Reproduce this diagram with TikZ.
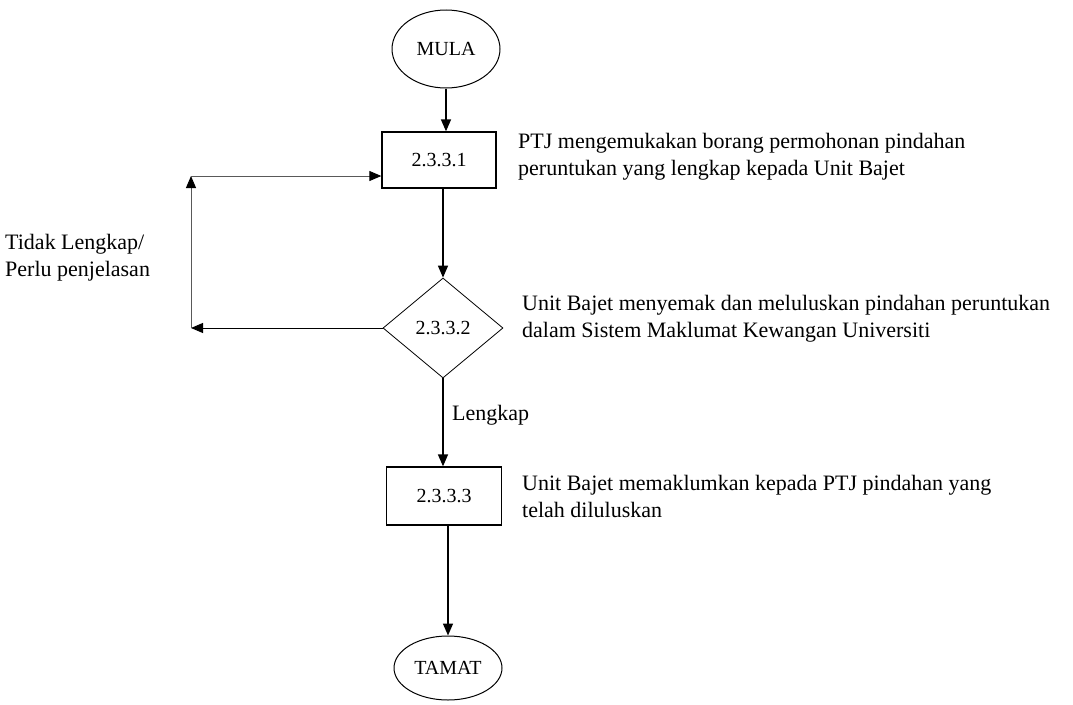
\documentclass[tikz,border=0pt]{standalone}
\usepackage{fontspec}
\setmainfont{Liberation Serif}
\usepackage{tikz}
\usetikzlibrary{shapes}
\usetikzlibrary{arrows.meta}

\tikzset{
  every node/.style={font=\fontsize{20}{27}\selectfont},
  terminal/.style={draw, ellipse, line width=1pt, inner sep=0pt},
  proses/.style={draw, rectangle, line width=1.3pt, minimum width=114, minimum height=56, inner sep=0pt},
  semak/.style={draw, diamond, line width=0.8pt, minimum width=120, minimum height=100, inner sep=0pt},
  arr/.style={line width=1.5pt, -{Triangle[length=12pt,width=10pt]}},
  arrloop/.style={line width=0.9pt, draw=black!65, -{Triangle[length=12pt,width=10pt,color=black,fill=black]}},
  nota/.style={anchor=west, align=left, inner sep=0pt, font=\fontsize{22}{27}\selectfont}
}

\begin{document}
\begin{tikzpicture}[x=1pt,y=1pt,yscale=-1]
\useasboundingbox (0,0) rectangle (1073,704);

%Shape: Ellipse [MULA]
\node[terminal, minimum width=108, minimum height=78] (mula) at (446,49) {MULA};
%Shape: Rectangle [2.3.3.1]
\node[proses] (p1) at (439,160) {2.3.3.1};
%Shape: Diamond [2.3.3.2]
\node[semak] (p2) at (443,328) {2.3.3.2};
%Shape: Rectangle [2.3.3.3]
\node[proses, minimum width=115, minimum height=58] (p3) at (444,496) {2.3.3.3};
%Shape: Ellipse [TAMAT]
\node[terminal, minimum width=108, minimum height=64] (tamat) at (448,668) {TAMAT};

%Loop points
\coordinate (kiri) at (191,328);
\coordinate (atas) at (191,176);

%Straight Lines
\draw[arr] (mula.south) -- (mula |- p1.north);
\draw[arr] (p2 |- p1.south) -- (p2.north);
\draw[arr] (p2.south) -- (p2.south |- p3.north);
\draw[arr] (p3.south -| tamat) -- (tamat.north);
\draw[arr, line width=0.9pt] (p2.west) -- (kiri);
\draw[arrloop] (kiri) -- (atas);
\draw[arrloop] (atas) -- (atas -| p1.west);

% Text Node
\node[nota] (n1) at (518,157) {PTJ mengemukakan borang permohonan pindahan\\peruntukan yang lengkap kepada Unit Bajet};
% Text Node
\node[nota] (n2) at (522,319) {Unit Bajet menyemak dan meluluskan pindahan peruntukan\\dalam Sistem Maklumat Kewangan Universiti};
% Text Node
\node[nota] (n3) at (522,496) {Unit Bajet memaklumkan kepada PTJ pindahan yang\\telah diluluskan};
% Text Node
\node[nota] (n4) at (5,258) {Tidak Lengkap/\\Perlu penjelasan};
% Text Node
\node[anchor=west, inner sep=0pt, font=\fontsize{22}{27}\selectfont] (lengkap) at (452,415) {Lengkap};

\end{tikzpicture}
\end{document}
